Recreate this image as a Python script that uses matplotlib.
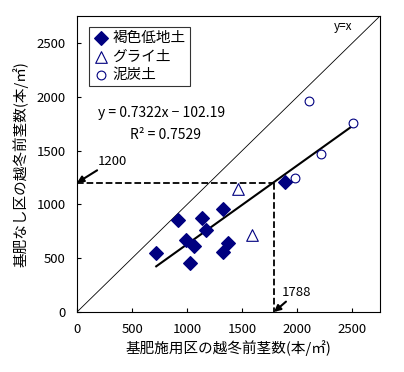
import matplotlib
matplotlib.use('Agg')
import matplotlib.pyplot as plt
import numpy as np

plt.rcParams['font.family'] = ['Noto Sans CJK JP', 'DejaVu Sans']
plt.rcParams['axes.unicode_minus'] = False

# 褐色低地土
brown_x = [719, 920, 993, 1023, 1060, 1135, 1172, 1327, 1324, 1369, 1888]
brown_y = [547, 857, 671, 453, 615, 873, 764, 957, 556, 640, 1211]
# グライ土
gley_x = [1460, 1585]
gley_y = [1143, 717]
# 泥炭土
peat_x = [2107, 2219, 1979, 2501]
peat_y = [1960, 1472, 1245, 1752]

slope, intercept = 0.7322, -102.19
ticks = [0, 500, 1000, 1500, 2000, 2500]
target_y = 1200
target_x = 1788

navy = '#000080'

fig = plt.figure(figsize=(4.04, 3.72), dpi=100)
ax = fig.add_axes([0.1906, 0.1613, 0.75, 0.7957])

ax.plot([0, 2750], [0, 2750], color='black', lw=0.6)
ax.text(2330, 2620, 'y=x', fontsize=8.5)

ax.scatter(brown_x, brown_y, marker='D', s=48, color=navy, label='褐色低地土', zorder=3)
ax.scatter(gley_x, gley_y, marker='^', s=70, facecolors='white', edgecolors=navy,
           linewidths=0.8, label='グライ土', zorder=3)
ax.scatter(peat_x, peat_y, marker='o', s=40, facecolors='white', edgecolors=navy,
           linewidths=0.8, label='泥炭土', zorder=3)

all_x = brown_x + gley_x + peat_x
xs = np.array([min(all_x), max(all_x)])
ax.plot(xs, slope * xs + intercept, color='black', lw=1.5, zorder=2)

ax.plot([0, target_x], [target_y, target_y], color='black', ls='--', lw=1.3)
ax.plot([target_x, target_x], [target_y, 0], color='black', ls='--', lw=1.3)

ax.annotate('1200', xy=(0, target_y), xytext=(185, 1370), fontsize=9.5,
            arrowprops=dict(arrowstyle='-|>', color='black', lw=1.5, shrinkA=0, shrinkB=0),
            annotation_clip=False)
ax.annotate('1788', xy=(target_x, 0), xytext=(1860, 150), fontsize=9.5,
            arrowprops=dict(arrowstyle='-|>', color='black', lw=1.5, shrinkA=0, shrinkB=0),
            annotation_clip=False)

ax.text(190, 1853, 'y = 0.7322x \u2212 102.19', fontsize=10, va='center')
ax.text(482, 1648, 'R² = 0.7529', fontsize=10, va='center')

ax.set_xlim(0, 2750)
ax.set_ylim(0, 2750)
ax.set_xticks(ticks)
ax.set_yticks(ticks)
ax.tick_params(direction='in', length=3, labelsize=9.5, pad=8)
ax.set_xlabel('基肥施用区の越冬前茎数(本/㎡)', fontsize=10.5, labelpad=3)
ax.set_ylabel('基肥なし区の越冬前茎数(本/㎡)', fontsize=10.5, labelpad=6)

leg = ax.legend(loc='upper left', bbox_to_anchor=(0.04, 0.963), fontsize=10.5,
                frameon=True, fancybox=False, edgecolor='black', handletextpad=0.3,
                borderpad=0.3, labelspacing=0.3, handlelength=1.0, borderaxespad=0)
leg.get_frame().set_linewidth(0.8)

fig.savefig('out.png', dpi=100)
